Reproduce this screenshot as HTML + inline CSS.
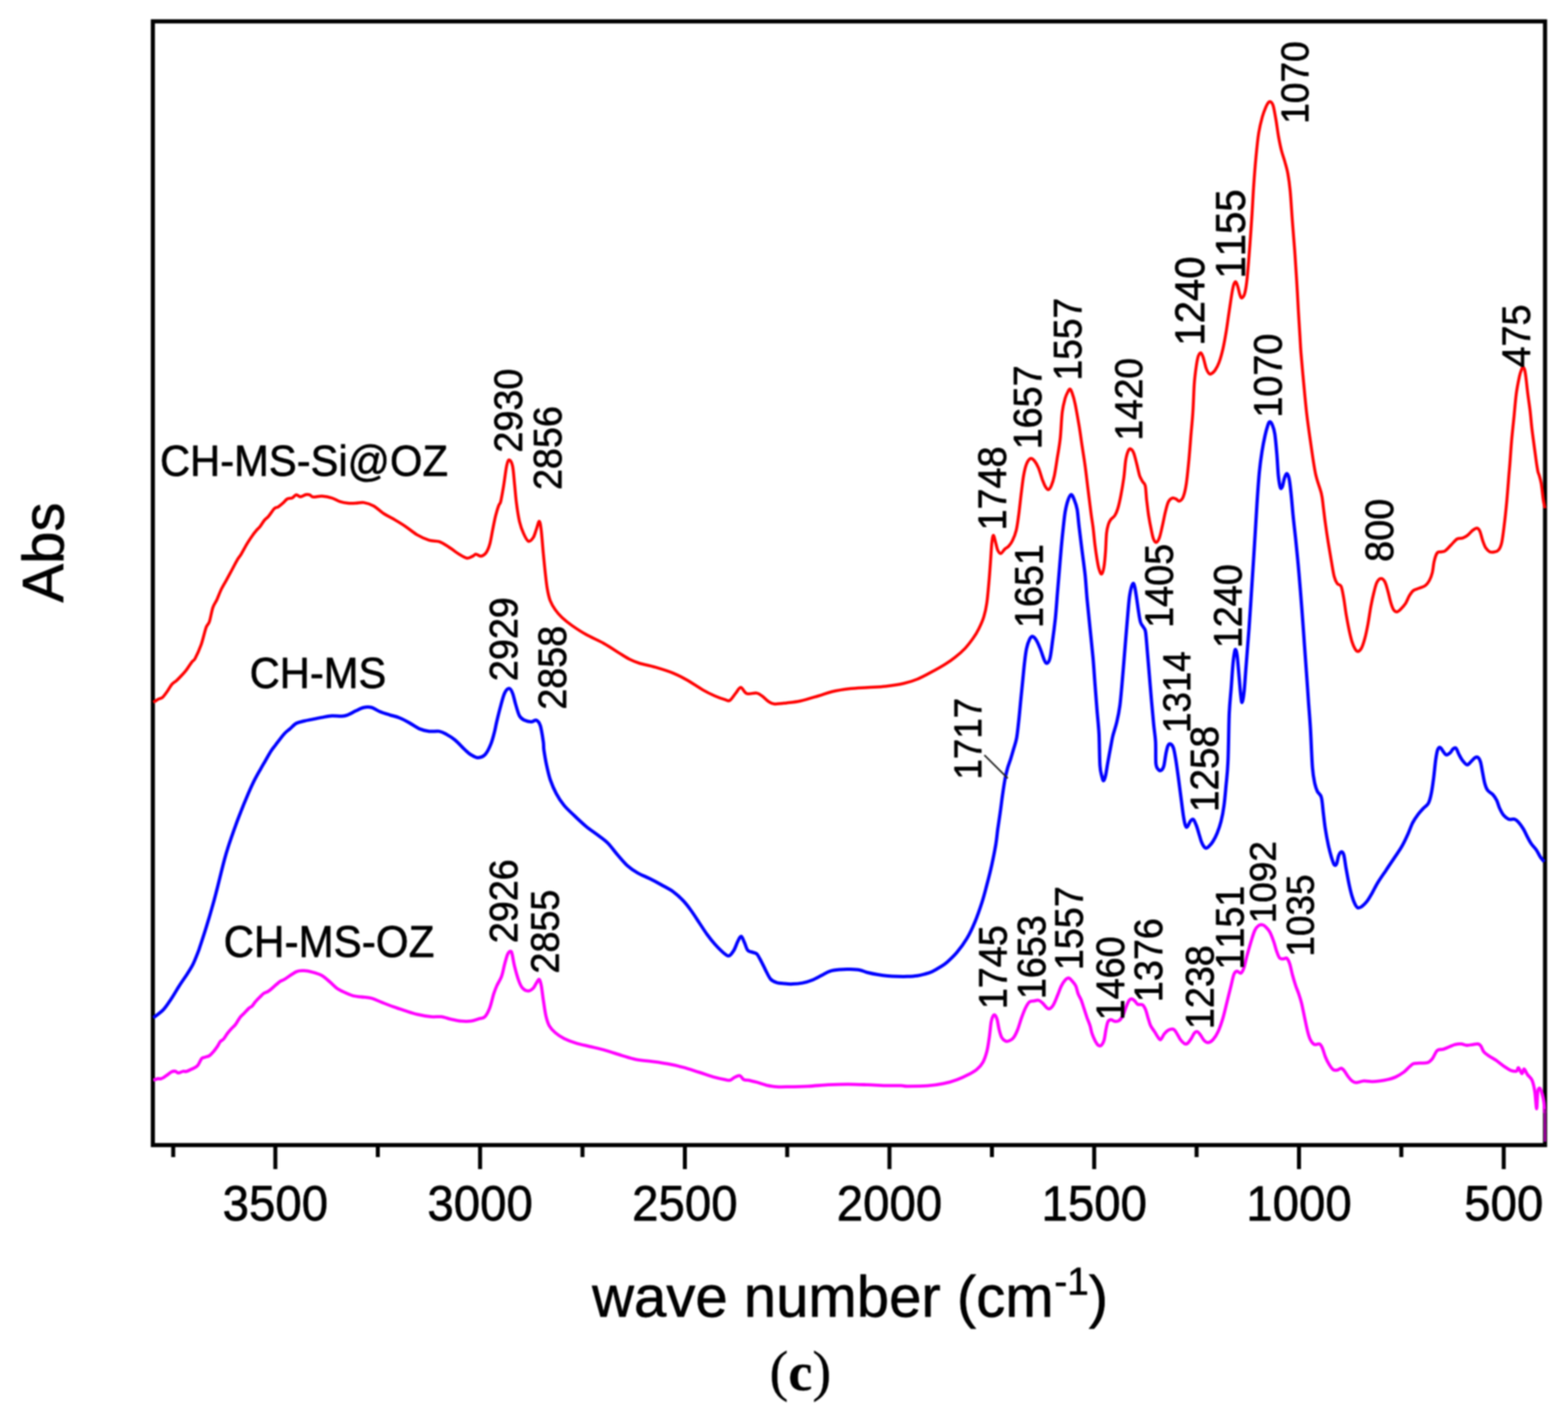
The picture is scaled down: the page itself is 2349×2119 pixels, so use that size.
<!DOCTYPE html>
<html lang="en">
<head>
<meta charset="utf-8">
<title>FTIR spectra (c)</title>
<style>
html,body{margin:0;padding:0;background:#fff;}
body{width:2349px;height:2119px;overflow:hidden;}
svg{display:block;filter:blur(1.2px);font-family:"Liberation Sans",Arial,Helvetica,sans-serif;font-kerning:none;}
svg text{fill:#000;stroke:#000;stroke-width:0.9px;stroke-linejoin:round;}
.cap{font-family:"Liberation Serif","Times New Roman",serif;stroke-width:0.3px;}
</style>
</head>
<body>
<svg xmlns="http://www.w3.org/2000/svg" width="2349" height="2119" viewBox="0 0 2349 2119">
<rect width="2349" height="2119" fill="#fff"/>

<rect x="229.0" y="32.0" width="2085.6" height="1684.0" fill="none" stroke="#000" stroke-width="6.2"/>
<g stroke="#000" stroke-width="6.0">
<line x1="412.5" y1="1716.0" x2="412.5" y2="1752.0"/>
<line x1="719.2" y1="1716.0" x2="719.2" y2="1752.0"/>
<line x1="1026.0" y1="1716.0" x2="1026.0" y2="1752.0"/>
<line x1="1332.5" y1="1716.0" x2="1332.5" y2="1752.0"/>
<line x1="1639.2" y1="1716.0" x2="1639.2" y2="1752.0"/>
<line x1="1946.0" y1="1716.0" x2="1946.0" y2="1752.0"/>
<line x1="2252.7" y1="1716.0" x2="2252.7" y2="1752.0"/>
<line x1="259.5" y1="1716.0" x2="259.5" y2="1734.0"/>
<line x1="566.0" y1="1716.0" x2="566.0" y2="1734.0"/>
<line x1="872.6" y1="1716.0" x2="872.6" y2="1734.0"/>
<line x1="1179.3" y1="1716.0" x2="1179.3" y2="1734.0"/>
<line x1="1486.0" y1="1716.0" x2="1486.0" y2="1734.0"/>
<line x1="1792.6" y1="1716.0" x2="1792.6" y2="1734.0"/>
<line x1="2099.3" y1="1716.0" x2="2099.3" y2="1734.0"/>
</g>
<g fill="none" stroke-width="4.8" stroke-linejoin="round" stroke-linecap="butt">
<path stroke="#ff00ff" stroke-width="4.8" d="M229.7 1618.8C230.8 1618.5 234.2 1617.0 236.0 1616.6C237.8 1616.2 239.2 1617.0 240.7 1616.7C242.3 1616.3 243.5 1615.6 245.2 1614.7C246.9 1613.7 248.8 1612.1 250.7 1610.8C252.6 1609.4 254.8 1607.3 256.7 1606.4C258.7 1605.5 260.8 1605.1 262.5 1605.3C264.2 1605.6 265.1 1607.8 267.0 1607.9C269.0 1607.9 272.2 1605.9 274.2 1605.5C276.2 1605.2 277.1 1606.1 279.2 1605.6C281.3 1605.1 284.6 1603.3 286.8 1602.3C289.0 1601.3 290.8 1600.7 292.5 1599.6C294.1 1598.5 295.2 1598.1 296.8 1595.9C298.4 1593.7 300.4 1588.2 302.1 1586.3C303.7 1584.4 304.7 1585.2 306.7 1584.4C308.6 1583.7 311.6 1583.4 313.8 1581.9C316.1 1580.4 318.1 1577.9 320.1 1575.6C322.1 1573.3 324.0 1570.7 325.7 1568.2C327.3 1565.8 328.5 1562.7 330.1 1560.8C331.6 1559.0 333.2 1559.1 335.0 1557.0C336.8 1555.0 338.8 1551.1 340.8 1548.5C342.8 1545.8 345.1 1543.2 347.1 1541.1C349.0 1539.0 350.4 1538.4 352.4 1535.8C354.4 1533.2 356.9 1528.2 359.1 1525.4C361.2 1522.5 363.1 1521.1 365.3 1518.8C367.6 1516.4 370.6 1513.0 372.7 1511.1C374.8 1509.2 376.3 1509.1 377.9 1507.4C379.6 1505.8 380.6 1503.4 382.6 1501.2C384.5 1499.0 387.3 1496.2 389.5 1494.1C391.6 1492.0 393.3 1489.9 395.4 1488.4C397.5 1487.0 399.9 1486.8 402.0 1485.4C404.2 1484.1 406.4 1482.0 408.3 1480.4C410.2 1478.8 411.7 1477.3 413.6 1475.7C415.6 1474.1 417.9 1471.8 420.0 1470.5C422.0 1469.2 421.8 1470.2 425.8 1467.8C429.8 1465.5 438.8 1458.4 443.8 1456.2C448.8 1454.0 451.7 1454.6 455.7 1454.7C459.7 1454.8 463.1 1455.6 467.6 1456.8C472.1 1458.0 478.0 1459.7 482.5 1462.1C486.9 1464.6 490.4 1468.3 494.4 1471.7C498.3 1475.0 502.3 1479.3 506.2 1482.1C510.2 1484.8 514.2 1486.3 518.1 1488.0C522.1 1489.7 526.1 1491.5 530.0 1492.5C534.0 1493.5 537.5 1493.4 541.9 1494.0C546.4 1494.6 551.8 1494.7 556.8 1496.0C561.7 1497.4 566.2 1499.9 571.7 1502.0C577.1 1504.1 583.6 1506.7 589.5 1508.8C595.4 1511.0 601.4 1512.9 607.3 1514.8C613.3 1516.7 618.7 1518.6 625.2 1520.1C631.6 1521.6 640.0 1523.1 646.0 1523.7C651.9 1524.3 655.9 1523.1 660.9 1523.7C665.8 1524.3 670.8 1526.2 675.7 1527.3C680.7 1528.3 685.6 1529.7 690.6 1530.2C695.5 1530.7 701.0 1530.8 705.5 1530.2C709.9 1529.6 713.9 1527.8 717.3 1526.7C720.8 1525.6 723.5 1526.4 726.3 1523.7C729.0 1521.0 731.5 1516.0 733.7 1510.3C735.9 1504.6 737.9 1494.9 739.6 1489.5C741.4 1484.0 742.1 1482.1 744.1 1477.6C746.1 1473.1 749.6 1468.2 751.5 1462.7C753.5 1457.3 754.5 1450.4 756.0 1444.9C757.5 1439.4 759.0 1433.3 760.5 1430.0C761.9 1426.8 763.8 1425.6 764.9 1425.6C766.1 1425.6 766.3 1426.3 767.2 1430.0C768.2 1433.7 769.2 1441.4 770.8 1447.9C772.4 1454.3 774.8 1463.2 776.8 1468.7C778.7 1474.1 780.2 1477.9 782.7 1480.6C785.2 1483.3 788.9 1485.0 791.6 1485.0C794.4 1485.0 796.9 1482.8 799.1 1480.6C801.2 1478.3 802.9 1473.7 804.4 1471.7C805.9 1469.6 806.9 1467.1 808.0 1468.1C809.1 1469.1 810.0 1472.6 811.0 1477.6C811.9 1482.7 812.8 1491.0 813.9 1498.4C815.1 1505.9 816.3 1515.8 817.8 1522.2C819.3 1528.6 820.5 1532.9 822.8 1537.1C825.2 1541.3 828.0 1544.3 831.8 1547.5C835.5 1550.7 839.9 1553.8 845.1 1556.4C850.3 1559.0 856.5 1561.3 863.0 1563.2C869.4 1565.2 876.4 1566.5 883.8 1568.3C891.2 1570.1 899.7 1572.0 907.6 1574.2C915.5 1576.5 923.9 1579.4 931.4 1581.7C938.8 1583.9 944.7 1586.1 952.2 1587.6C959.6 1589.1 968.0 1589.5 976.0 1590.6C983.9 1591.7 991.8 1592.7 999.8 1594.2C1007.7 1595.6 1015.6 1597.4 1023.5 1599.5C1031.5 1601.6 1039.9 1604.6 1047.3 1606.9C1054.8 1609.3 1061.7 1611.9 1068.1 1613.8C1074.6 1615.6 1081.8 1617.1 1086.0 1617.9C1090.2 1618.8 1090.9 1619.4 1093.4 1618.8C1095.9 1618.2 1098.4 1615.5 1100.8 1614.4C1103.3 1613.2 1106.0 1611.4 1108.3 1612.0C1110.5 1612.6 1112.0 1616.8 1114.2 1617.9C1116.5 1619.1 1118.4 1618.2 1121.7 1618.8C1124.9 1619.5 1129.1 1620.6 1133.6 1621.8C1138.0 1623.0 1143.5 1625.1 1148.4 1626.3C1153.4 1627.4 1157.8 1628.3 1163.3 1628.6C1168.7 1629.0 1173.2 1628.8 1181.1 1628.6C1189.1 1628.5 1200.9 1628.3 1210.9 1627.8C1220.8 1627.3 1230.7 1626.2 1240.6 1625.7C1250.5 1625.2 1260.4 1624.8 1270.3 1624.8C1280.2 1624.8 1290.1 1625.3 1300.1 1625.7C1310.0 1626.0 1321.5 1626.7 1329.8 1626.9C1338.1 1627.1 1345.1 1626.7 1350.0 1626.9C1355.0 1627.0 1352.9 1627.7 1359.5 1627.8C1366.0 1627.8 1380.3 1627.8 1389.2 1627.2C1398.1 1626.5 1405.6 1625.4 1413.0 1623.9C1420.4 1622.4 1427.4 1620.3 1433.8 1617.9C1440.2 1615.6 1446.7 1612.5 1451.6 1609.9C1456.6 1607.3 1460.1 1605.5 1463.5 1602.5C1467.0 1599.5 1470.0 1596.5 1472.4 1592.1C1474.9 1587.6 1476.8 1581.9 1478.4 1575.7C1480.0 1569.5 1480.9 1562.3 1482.0 1554.9C1483.1 1547.5 1483.9 1536.6 1484.9 1531.1C1485.9 1525.7 1486.9 1523.8 1487.9 1522.2C1488.9 1520.6 1489.9 1520.6 1490.9 1521.6C1491.9 1522.6 1492.9 1524.6 1493.9 1528.2C1494.8 1531.7 1495.7 1538.6 1496.8 1543.0C1498.0 1547.5 1499.1 1552.0 1500.7 1554.9C1502.3 1557.8 1504.7 1559.5 1506.6 1560.3C1508.6 1561.0 1510.6 1560.3 1512.6 1559.4C1514.6 1558.5 1516.6 1557.6 1518.5 1554.9C1520.5 1552.2 1522.5 1548.0 1524.5 1543.0C1526.5 1538.1 1528.4 1530.6 1530.4 1525.2C1532.4 1519.7 1534.4 1514.3 1536.4 1510.3C1538.4 1506.3 1540.1 1503.1 1542.3 1501.4C1544.6 1499.7 1547.5 1500.3 1549.8 1499.9C1552.0 1499.5 1553.7 1498.5 1555.7 1499.0C1557.7 1499.5 1559.7 1501.1 1561.6 1502.9C1563.6 1504.7 1565.9 1508.2 1567.6 1509.7C1569.3 1511.2 1570.3 1512.4 1572.1 1511.8C1573.8 1511.2 1576.0 1509.1 1578.0 1505.9C1580.0 1502.6 1582.0 1497.2 1583.9 1492.5C1585.9 1487.8 1587.9 1481.6 1589.9 1477.6C1591.9 1473.6 1594.0 1470.7 1595.8 1468.7C1597.7 1466.7 1599.2 1465.5 1600.9 1465.7C1602.6 1466.0 1604.5 1468.2 1606.2 1470.2C1608.0 1472.2 1610.1 1474.4 1611.6 1477.6C1613.1 1480.8 1613.8 1486.0 1615.2 1489.5C1616.5 1493.0 1618.1 1494.7 1619.6 1498.4C1621.1 1502.1 1622.6 1507.3 1624.1 1511.8C1625.6 1516.3 1627.1 1521.0 1628.5 1525.2C1630.0 1529.4 1631.8 1533.1 1633.0 1537.1C1634.2 1541.0 1634.7 1545.2 1636.0 1549.0C1637.2 1552.7 1639.0 1556.5 1640.4 1559.4C1641.9 1562.2 1643.4 1565.0 1644.9 1566.2C1646.4 1567.4 1647.9 1567.9 1649.4 1566.8C1650.8 1565.7 1652.6 1563.3 1653.8 1559.4C1655.1 1555.4 1655.8 1547.7 1656.8 1543.0C1657.8 1538.3 1658.5 1533.6 1659.8 1531.1C1661.0 1528.6 1662.5 1528.3 1664.2 1528.2C1666.0 1528.1 1668.2 1530.3 1670.2 1530.5C1672.2 1530.8 1674.1 1531.0 1676.1 1529.6C1678.1 1528.3 1680.3 1525.4 1682.1 1522.2C1683.8 1519.0 1685.0 1514.0 1686.5 1510.3C1688.0 1506.6 1689.5 1502.1 1691.0 1499.9C1692.5 1497.7 1694.0 1496.9 1695.4 1496.9C1696.9 1496.9 1698.4 1498.6 1699.9 1499.9C1701.4 1501.2 1702.4 1504.0 1704.4 1505.0C1706.3 1506.0 1709.8 1504.5 1711.8 1505.9C1713.8 1507.2 1714.9 1510.1 1716.3 1513.3C1717.6 1516.5 1718.6 1521.2 1719.8 1525.2C1721.1 1529.1 1722.1 1533.6 1723.7 1537.1C1725.3 1540.5 1727.9 1543.3 1729.6 1546.0C1731.4 1548.7 1732.6 1551.4 1734.1 1553.4C1735.6 1555.4 1736.8 1558.6 1738.6 1557.9C1740.3 1557.1 1742.5 1551.3 1744.5 1549.0C1746.5 1546.6 1748.2 1544.7 1750.5 1543.6C1752.7 1542.5 1755.9 1541.8 1757.9 1542.4C1759.9 1543.1 1760.6 1544.9 1762.3 1547.5C1764.1 1550.1 1766.3 1555.2 1768.3 1557.9C1770.3 1560.6 1772.5 1562.8 1774.2 1563.8C1776.0 1564.8 1777.0 1565.1 1778.7 1563.8C1780.4 1562.6 1782.9 1559.0 1784.6 1556.4C1786.4 1553.8 1787.6 1550.1 1789.1 1548.4C1790.6 1546.6 1792.1 1545.6 1793.6 1546.0C1795.0 1546.3 1796.3 1548.2 1798.0 1550.5C1799.8 1552.7 1802.0 1557.4 1804.0 1559.4C1806.0 1561.4 1807.7 1562.6 1809.9 1562.3C1812.1 1562.1 1814.9 1560.6 1817.3 1557.9C1819.8 1555.2 1822.3 1551.4 1824.8 1546.0C1827.3 1540.5 1830.0 1532.6 1832.2 1525.2C1834.4 1517.7 1836.2 1509.3 1838.2 1501.4C1840.1 1493.5 1842.4 1484.5 1844.1 1477.6C1845.8 1470.7 1847.1 1463.5 1848.6 1459.8C1850.1 1456.0 1851.3 1455.6 1853.0 1455.3C1854.8 1455.1 1857.2 1459.0 1859.0 1458.3C1860.7 1457.5 1861.9 1455.1 1863.4 1450.8C1864.9 1446.6 1866.2 1439.4 1867.9 1433.0C1869.6 1426.6 1871.9 1418.6 1873.8 1412.2C1875.8 1405.8 1877.8 1398.6 1879.8 1394.4C1881.8 1390.1 1883.8 1388.3 1885.7 1386.9C1887.7 1385.5 1889.9 1385.6 1891.7 1386.0C1893.5 1386.4 1894.7 1387.5 1896.4 1389.3C1898.2 1391.1 1900.4 1393.0 1902.4 1396.8C1904.4 1400.5 1906.6 1406.6 1908.3 1411.6C1910.0 1416.5 1911.3 1422.4 1912.8 1426.4C1914.3 1430.5 1915.5 1434.2 1917.2 1435.9C1918.9 1437.7 1921.4 1436.8 1923.2 1436.8C1924.9 1436.8 1926.1 1434.7 1927.6 1435.9C1929.1 1437.2 1930.6 1439.9 1932.1 1444.2C1933.5 1448.6 1935.0 1456.6 1936.5 1462.0C1938.0 1467.5 1939.5 1472.4 1941.0 1476.9C1942.4 1481.3 1943.9 1484.3 1945.4 1488.7C1946.9 1493.2 1948.4 1497.6 1949.9 1503.6C1951.3 1509.5 1952.8 1517.4 1954.3 1524.4C1955.8 1531.3 1957.3 1539.4 1958.8 1545.1C1960.2 1550.8 1961.5 1555.1 1963.2 1558.5C1964.9 1561.8 1966.9 1564.3 1969.1 1565.3C1971.4 1566.3 1974.6 1563.6 1976.6 1564.4C1978.5 1565.3 1979.5 1567.1 1981.0 1570.4C1982.5 1573.6 1983.7 1579.5 1985.5 1583.7C1987.2 1587.9 1989.4 1592.4 1991.4 1595.6C1993.4 1598.8 1995.4 1601.7 1997.3 1603.0C1999.3 1604.3 2001.3 1603.9 2003.3 1603.6C2005.3 1603.2 2007.5 1600.8 2009.2 1600.9C2010.9 1601.1 2011.9 1602.4 2013.7 1604.5C2015.4 1606.6 2017.6 1610.8 2019.6 1613.4C2021.6 1616.0 2023.6 1618.4 2025.5 1619.9C2027.5 1621.4 2028.5 1622.3 2031.5 1622.3C2034.4 1622.3 2039.4 1620.2 2043.3 1619.9C2047.3 1619.7 2051.3 1620.8 2055.2 1620.8C2059.2 1620.8 2063.1 1620.4 2067.1 1619.9C2071.0 1619.4 2075.0 1618.8 2078.9 1617.8C2082.9 1616.8 2086.9 1615.8 2090.8 1614.0C2094.8 1612.1 2099.2 1609.4 2102.7 1606.9C2106.2 1604.3 2109.1 1600.7 2111.6 1598.5C2114.1 1596.4 2115.1 1595.0 2117.5 1594.1C2120.0 1593.2 2123.0 1593.5 2126.4 1593.2C2129.9 1593.0 2135.1 1593.7 2138.3 1592.6C2141.5 1591.5 2143.2 1589.7 2145.7 1586.7C2148.2 1583.6 2150.4 1576.6 2153.1 1574.2C2155.9 1571.8 2159.1 1573.3 2162.0 1572.4C2165.0 1571.5 2168.0 1570.1 2170.9 1568.9C2173.9 1567.7 2176.9 1566.1 2179.8 1565.3C2182.8 1564.6 2185.8 1564.2 2188.7 1564.4C2191.7 1564.6 2194.7 1566.3 2197.6 1566.5C2200.6 1566.6 2203.8 1565.7 2206.6 1565.3C2209.3 1565.0 2212.0 1564.1 2214.0 1564.4C2215.9 1564.8 2216.9 1565.4 2218.4 1567.4C2219.9 1569.4 2220.9 1573.8 2222.9 1576.3C2224.9 1578.8 2227.1 1580.0 2230.3 1582.2C2233.5 1584.5 2238.2 1586.9 2242.2 1589.6C2246.1 1592.4 2250.6 1596.2 2254.0 1598.5C2257.5 1600.9 2260.0 1602.8 2262.9 1603.9C2265.9 1605.0 2269.9 1605.7 2271.8 1605.1C2273.8 1604.5 2273.4 1599.7 2274.8 1600.3C2276.2 1600.9 2278.6 1608.5 2280.0 1608.8C2281.4 1609.1 2281.9 1601.7 2283.3 1602.0C2284.7 1602.3 2286.4 1607.7 2288.4 1610.5C2290.4 1613.3 2293.4 1614.8 2295.2 1619.0C2297.0 1623.2 2298.2 1628.9 2299.3 1636.0C2300.4 1643.1 2301.3 1661.6 2302.0 1661.6C2302.7 1661.6 2302.9 1641.1 2303.7 1636.0C2304.5 1630.9 2305.9 1630.3 2307.0 1631.0C2308.1 1631.7 2309.5 1636.5 2310.5 1640.0C2311.5 1643.5 2312.4 1647.3 2313.0 1652.0C2313.6 1656.7 2313.8 1665.3 2314.0 1668.0"/>
<path stroke="#0000ff" stroke-width="5.0" d="M229.7 1525.2C232.2 1523.2 240.1 1518.0 244.6 1513.3C249.1 1508.6 252.5 1502.9 256.5 1496.9C260.5 1491.0 264.4 1483.8 268.4 1477.6C272.3 1471.4 276.8 1465.2 280.3 1459.8C283.7 1454.3 286.5 1450.4 289.2 1444.9C291.9 1439.4 294.8 1431.7 296.6 1427.1C298.4 1422.5 297.9 1423.6 300.0 1417.3C302.1 1410.9 306.1 1399.0 309.2 1388.8C312.4 1378.6 316.1 1365.9 318.8 1356.2C321.5 1346.6 322.5 1342.4 325.5 1331.0C328.4 1319.6 333.2 1299.3 336.3 1288.0C339.3 1276.8 341.1 1271.7 343.8 1263.3C346.6 1255.0 349.7 1245.9 352.7 1237.8C355.6 1229.6 358.9 1221.3 361.6 1214.4C364.2 1207.6 365.6 1203.9 368.7 1196.9C371.7 1189.8 376.1 1179.5 379.7 1172.2C383.2 1164.9 387.1 1158.3 390.0 1153.2C392.8 1148.1 393.9 1146.3 396.6 1141.7C399.3 1137.0 403.4 1129.5 406.1 1125.3C408.8 1121.2 409.3 1120.9 412.6 1116.7C415.8 1112.4 422.1 1103.8 425.7 1099.8C429.3 1095.8 431.0 1095.1 434.0 1092.5C437.0 1089.9 440.2 1086.1 443.8 1084.0C447.4 1082.0 451.7 1081.5 455.7 1080.5C459.7 1079.5 463.1 1079.0 467.6 1078.1C472.1 1077.2 477.5 1076.0 482.5 1075.1C487.4 1074.2 492.4 1073.0 497.3 1072.7C502.3 1072.5 508.2 1073.6 512.2 1073.3C516.2 1073.1 517.6 1072.6 521.1 1071.3C524.6 1069.9 529.0 1067.2 533.0 1065.3C537.0 1063.5 540.9 1061.1 544.9 1060.3C548.9 1059.4 552.8 1059.3 556.8 1060.3C560.8 1061.3 564.2 1064.4 568.7 1066.2C573.1 1068.0 578.6 1069.7 583.6 1071.3C588.5 1072.8 593.5 1073.7 598.4 1075.7C603.4 1077.7 608.3 1080.4 613.3 1083.2C618.2 1085.9 623.2 1089.9 628.2 1092.1C633.1 1094.2 638.1 1095.3 643.0 1095.9C648.0 1096.6 653.7 1095.2 657.9 1095.9C662.1 1096.6 664.3 1097.9 668.3 1100.1C672.3 1102.3 677.0 1105.1 681.7 1109.0C686.4 1112.9 692.5 1119.8 696.5 1123.5C700.5 1127.2 702.1 1129.0 705.4 1131.0C708.6 1133.0 712.4 1135.6 716.0 1135.5C719.6 1135.4 723.8 1134.0 727.0 1130.5C730.2 1127.0 733.2 1120.5 735.5 1114.7C737.8 1109.0 739.6 1101.5 741.0 1096.0C742.4 1090.5 742.6 1088.0 744.1 1081.7C745.6 1075.3 748.1 1065.1 750.1 1057.9C752.0 1050.7 753.9 1042.9 756.0 1038.6C758.1 1034.2 760.9 1031.7 762.8 1031.7C764.8 1031.7 766.3 1034.7 767.8 1038.6C769.4 1042.4 770.6 1049.2 772.3 1054.9C774.0 1060.6 776.0 1068.7 778.2 1072.7C780.5 1076.8 782.7 1077.8 785.7 1079.3C788.7 1080.8 793.1 1081.7 796.1 1081.7C799.1 1081.7 801.3 1078.3 803.5 1079.3C805.7 1080.3 807.7 1082.3 809.5 1087.6C811.2 1093.0 813.0 1105.4 813.9 1111.4C814.8 1117.4 814.0 1117.8 814.8 1123.8C815.7 1129.8 817.4 1140.1 819.0 1147.6C820.6 1155.0 822.0 1161.4 824.3 1168.4C826.7 1175.3 829.8 1182.8 833.3 1189.2C836.7 1195.6 840.7 1201.6 845.1 1207.0C849.6 1212.5 854.6 1216.7 860.0 1221.9C865.5 1227.1 871.9 1233.3 877.9 1238.3C883.8 1243.2 890.2 1247.4 895.7 1251.6C901.1 1255.8 905.6 1258.6 910.6 1263.5C915.5 1268.5 920.5 1275.7 925.4 1281.4C930.4 1287.1 935.3 1293.3 940.3 1297.7C945.2 1302.2 949.7 1305.0 955.2 1308.1C960.6 1311.3 967.0 1313.5 973.0 1316.5C978.9 1319.4 984.9 1322.6 990.8 1326.0C996.8 1329.3 1003.2 1332.4 1008.7 1336.4C1014.1 1340.3 1019.1 1345.0 1023.5 1349.8C1028.0 1354.5 1031.5 1359.2 1035.4 1364.6C1039.4 1370.1 1043.4 1376.5 1047.3 1382.5C1051.3 1388.4 1055.3 1394.8 1059.2 1400.3C1063.2 1405.8 1067.1 1410.7 1071.1 1415.2C1075.1 1419.6 1079.5 1424.2 1083.0 1427.1C1086.5 1429.9 1089.2 1432.9 1091.9 1432.4C1094.7 1431.9 1097.1 1427.7 1099.4 1424.1C1101.6 1420.5 1103.5 1414.2 1105.3 1410.7C1107.1 1407.2 1108.7 1403.0 1110.4 1403.3C1112.0 1403.5 1113.5 1408.7 1115.1 1412.2C1116.8 1415.7 1118.1 1421.6 1120.2 1424.1C1122.3 1426.6 1125.4 1426.2 1127.6 1427.1C1129.8 1428.0 1131.6 1427.5 1133.6 1429.4C1135.5 1431.4 1137.3 1434.9 1139.5 1439.0C1141.7 1443.0 1144.5 1449.1 1146.9 1453.8C1149.4 1458.5 1151.6 1464.1 1154.4 1467.2C1157.1 1470.3 1159.8 1471.1 1163.3 1472.3C1166.8 1473.4 1171.2 1473.6 1175.2 1474.0C1179.1 1474.4 1182.6 1474.8 1187.1 1474.6C1191.5 1474.5 1197.0 1474.1 1201.9 1473.1C1206.9 1472.2 1211.8 1470.7 1216.8 1468.7C1221.8 1466.7 1227.2 1463.5 1231.7 1461.3C1236.1 1459.0 1239.1 1456.7 1243.6 1455.3C1248.0 1453.9 1253.5 1453.4 1258.4 1452.9C1263.4 1452.5 1268.3 1452.5 1273.3 1452.6C1278.3 1452.8 1283.7 1453.0 1288.2 1453.8C1292.6 1454.6 1295.5 1456.4 1300.0 1457.5C1304.5 1458.6 1310.0 1459.7 1314.9 1460.5C1319.9 1461.3 1324.8 1462.0 1329.7 1462.5C1334.7 1463.0 1339.6 1463.2 1344.6 1463.3C1349.6 1463.4 1354.5 1463.5 1359.5 1463.3C1364.5 1463.1 1369.8 1462.8 1374.3 1462.2C1378.8 1461.6 1382.5 1460.5 1386.2 1459.5C1389.9 1458.5 1392.9 1457.6 1396.6 1455.9C1400.3 1454.2 1404.8 1451.6 1408.5 1449.2C1412.2 1446.8 1414.7 1445.5 1418.9 1441.8C1423.1 1438.1 1428.8 1432.9 1433.8 1426.9C1438.8 1421.0 1444.2 1413.7 1448.7 1406.1C1453.2 1398.5 1456.9 1390.4 1460.6 1381.5C1464.3 1372.6 1468.0 1361.8 1471.0 1352.5C1474.0 1343.2 1475.9 1335.4 1478.4 1326.0C1480.9 1316.6 1483.6 1306.1 1485.8 1296.0C1488.0 1285.9 1490.3 1274.4 1491.8 1265.5C1493.3 1256.6 1493.6 1251.0 1494.7 1242.7C1495.9 1234.5 1497.4 1224.9 1498.6 1216.0C1499.9 1207.0 1500.9 1197.6 1502.2 1189.2C1503.4 1180.8 1504.8 1171.9 1506.0 1165.4C1507.3 1159.0 1508.3 1155.3 1509.6 1150.5C1511.0 1145.8 1512.6 1141.9 1514.1 1137.2C1515.6 1132.5 1517.0 1127.5 1518.5 1122.3C1520.0 1117.1 1521.8 1112.7 1523.0 1105.9C1524.2 1099.2 1525.0 1090.7 1526.0 1081.7C1527.0 1072.7 1528.0 1061.8 1528.9 1051.9C1529.9 1042.0 1530.9 1032.1 1531.9 1022.2C1532.9 1012.3 1533.9 1000.9 1534.9 992.5C1535.9 984.0 1536.6 977.4 1537.9 971.7C1539.1 966.0 1540.8 961.3 1542.3 958.3C1543.8 955.3 1545.0 953.6 1546.8 953.8C1548.5 954.1 1550.7 956.5 1552.7 959.8C1554.7 963.0 1556.7 968.2 1558.7 973.1C1560.7 978.1 1563.0 986.0 1564.6 989.5C1566.3 993.0 1567.1 994.5 1568.5 994.0C1569.9 993.5 1571.6 991.7 1572.9 986.5C1574.3 981.3 1575.2 972.6 1576.5 962.7C1577.9 952.8 1579.7 939.0 1581.0 927.1C1582.2 915.2 1583.0 903.3 1583.9 891.4C1584.9 879.5 1585.9 867.6 1586.9 855.7C1587.9 843.8 1588.9 830.9 1589.9 820.0C1590.9 809.1 1591.9 799.2 1592.9 790.3C1593.9 781.4 1594.6 773.4 1595.8 766.5C1597.1 759.6 1598.8 752.9 1600.3 748.7C1601.8 744.5 1603.3 741.2 1604.8 741.2C1606.2 741.2 1607.7 744.9 1609.2 748.7C1610.7 752.4 1612.4 756.6 1613.7 763.5C1614.9 770.5 1615.4 779.9 1616.7 790.3C1617.9 800.7 1619.6 814.1 1621.1 826.0C1622.6 837.9 1624.3 849.8 1625.6 861.6C1626.8 873.5 1627.3 883.9 1628.5 897.3C1629.8 910.7 1631.5 927.1 1633.0 941.9C1634.5 956.8 1636.2 972.6 1637.5 986.5C1638.7 1000.4 1639.4 1012.3 1640.4 1025.2C1641.4 1038.1 1642.4 1051.4 1643.4 1063.8C1644.4 1076.2 1645.6 1085.6 1646.4 1099.5C1647.1 1113.5 1647.1 1136.8 1647.9 1147.6C1648.6 1158.3 1650.0 1160.2 1650.8 1163.9C1651.7 1167.6 1652.3 1170.1 1653.2 1169.9C1654.1 1169.6 1655.1 1167.1 1656.2 1162.4C1657.3 1157.7 1658.4 1149.1 1659.8 1141.6C1661.1 1134.2 1663.0 1124.4 1664.2 1117.8C1665.5 1111.3 1665.7 1108.5 1667.2 1102.5C1668.7 1096.5 1671.4 1089.1 1673.1 1081.7C1674.9 1074.2 1676.4 1066.8 1677.6 1057.9C1678.8 1049.0 1679.6 1039.1 1680.6 1028.2C1681.6 1017.2 1682.6 1004.4 1683.6 992.5C1684.5 980.6 1685.5 968.7 1686.5 956.8C1687.5 944.9 1688.5 932.0 1689.5 921.1C1690.5 910.2 1691.2 899.1 1692.5 891.4C1693.7 883.7 1695.7 877.0 1696.9 875.0C1698.2 873.0 1698.9 875.8 1699.9 879.5C1700.9 883.2 1701.9 890.9 1702.9 897.3C1703.9 903.8 1704.9 912.2 1705.9 918.1C1706.8 924.1 1707.6 929.3 1708.8 933.0C1710.1 936.7 1712.0 938.0 1713.3 940.4C1714.5 942.9 1715.3 941.2 1716.3 947.9C1717.2 954.6 1718.2 969.2 1719.2 980.6C1720.2 992.0 1721.2 1004.4 1722.2 1016.3C1723.2 1028.2 1724.2 1040.5 1725.2 1051.9C1726.2 1063.3 1727.2 1074.7 1728.2 1084.6C1729.1 1094.6 1730.5 1101.4 1731.1 1111.4C1731.7 1121.4 1731.0 1137.6 1731.7 1144.6C1732.5 1151.6 1734.2 1151.9 1735.6 1153.5C1737.0 1155.1 1738.7 1155.1 1740.0 1154.1C1741.4 1153.1 1742.5 1151.6 1743.6 1147.6C1744.7 1143.5 1745.6 1134.7 1746.6 1129.7C1747.6 1124.8 1748.4 1120.3 1749.6 1117.8C1750.7 1115.4 1752.0 1114.4 1753.4 1114.9C1754.8 1115.4 1756.5 1116.8 1757.9 1120.8C1759.2 1124.8 1760.2 1131.2 1761.5 1138.7C1762.7 1146.1 1764.0 1156.0 1765.3 1165.4C1766.6 1174.8 1767.9 1185.7 1769.2 1195.1C1770.4 1204.6 1771.7 1215.0 1772.7 1221.9C1773.8 1228.8 1774.7 1233.9 1775.7 1236.8C1776.7 1239.6 1777.5 1240.1 1778.7 1239.1C1779.9 1238.2 1781.7 1232.7 1783.2 1230.8C1784.6 1228.9 1786.1 1226.9 1787.6 1227.9C1789.1 1228.8 1790.7 1233.3 1792.1 1236.8C1793.5 1240.2 1794.7 1244.7 1795.9 1248.7C1797.2 1252.6 1798.3 1257.3 1799.5 1260.6C1800.7 1263.8 1801.8 1266.3 1803.1 1268.0C1804.3 1269.7 1805.6 1271.0 1806.9 1271.0C1808.3 1271.0 1809.7 1269.7 1811.4 1268.0C1813.1 1266.3 1815.4 1263.8 1817.3 1260.6C1819.3 1257.3 1821.3 1253.6 1823.3 1248.7C1825.3 1243.7 1827.5 1237.8 1829.2 1230.8C1831.0 1223.9 1832.5 1216.0 1833.7 1207.0C1834.9 1198.1 1835.7 1188.2 1836.7 1177.3C1837.7 1166.4 1838.8 1159.7 1839.6 1141.6C1840.5 1123.6 1840.7 1087.4 1841.5 1068.9C1842.4 1050.3 1843.6 1042.2 1844.5 1030.3C1845.4 1018.4 1846.1 1006.1 1846.9 997.6C1847.6 989.2 1848.3 983.9 1849.0 979.8C1849.7 975.8 1850.3 972.8 1851.0 973.3C1851.8 973.8 1852.5 975.8 1853.4 982.8C1854.3 989.8 1855.5 1005.6 1856.4 1015.5C1857.3 1025.3 1858.0 1036.0 1858.8 1042.2C1859.5 1048.3 1860.0 1053.5 1860.8 1052.5C1861.7 1051.6 1862.8 1045.4 1863.8 1036.2C1864.8 1027.1 1865.5 1013.5 1866.8 997.6C1868.0 981.8 1869.7 962.0 1871.2 941.3C1872.7 920.5 1874.3 894.3 1875.7 873.0C1877.1 851.7 1878.3 833.4 1879.5 813.7C1880.8 793.9 1881.9 772.1 1883.1 754.3C1884.3 736.5 1885.4 719.7 1886.7 706.8C1887.9 694.0 1889.1 686.1 1890.5 677.2C1891.9 668.3 1893.5 660.1 1895.0 653.4C1896.4 646.7 1898.2 640.7 1899.4 637.1C1900.6 633.5 1901.2 632.0 1902.4 632.0C1903.5 632.0 1905.0 634.0 1906.2 637.1C1907.5 640.2 1908.7 643.3 1909.8 650.4C1910.9 657.6 1911.9 669.7 1912.8 680.1C1913.7 690.5 1914.3 704.4 1915.1 712.8C1916.0 721.2 1917.1 727.9 1918.1 730.6C1919.1 733.3 1920.1 731.3 1921.1 729.1C1922.1 726.9 1923.0 720.4 1924.0 717.2C1925.1 714.0 1926.4 709.8 1927.6 709.8C1928.8 709.8 1930.1 712.3 1931.2 717.2C1932.3 722.2 1933.1 730.3 1934.1 739.5C1935.1 748.6 1936.0 760.7 1937.1 772.1C1938.2 783.5 1939.7 795.4 1941.0 807.7C1942.2 820.1 1943.6 833.4 1944.8 846.3C1946.0 859.2 1947.0 871.5 1948.1 884.9C1949.2 898.2 1950.3 912.6 1951.3 926.4C1952.4 940.3 1953.3 954.1 1954.3 968.0C1955.3 981.8 1956.3 995.7 1957.3 1009.5C1958.3 1023.4 1959.3 1037.2 1960.2 1051.1C1961.2 1064.9 1962.2 1076.0 1963.2 1092.6C1964.2 1109.2 1965.1 1136.9 1966.2 1150.4C1967.3 1164.0 1968.5 1168.3 1969.7 1174.2C1971.0 1180.1 1972.0 1182.6 1973.6 1186.1C1975.2 1189.5 1978.1 1189.5 1979.5 1195.0C1981.0 1200.4 1981.5 1210.8 1982.5 1218.7C1983.5 1226.6 1984.2 1234.5 1985.5 1242.4C1986.7 1250.4 1988.4 1259.3 1989.9 1266.2C1991.4 1273.1 1992.9 1279.0 1994.4 1284.0C1995.9 1288.9 1997.5 1294.1 1998.8 1295.9C2000.2 1297.6 2001.3 1296.6 2002.4 1294.4C2003.5 1292.1 2004.2 1285.5 2005.4 1282.5C2006.5 1279.5 2007.9 1276.8 2009.2 1276.6C2010.5 1276.3 2011.8 1276.8 2013.1 1281.0C2014.3 1285.2 2015.3 1294.4 2016.6 1301.8C2018.0 1309.2 2019.6 1318.6 2021.1 1325.5C2022.6 1332.5 2024.0 1338.4 2025.5 1343.3C2027.0 1348.3 2028.5 1352.3 2030.0 1355.2C2031.5 1358.1 2032.7 1360.1 2034.4 1360.5C2036.2 1361.0 2038.1 1359.8 2040.4 1358.2C2042.6 1356.5 2045.3 1354.0 2047.8 1350.8C2050.3 1347.5 2052.5 1343.6 2055.2 1338.9C2057.9 1334.2 2060.6 1328.3 2064.1 1322.6C2067.6 1316.9 2072.0 1310.7 2076.0 1304.8C2079.9 1298.8 2083.9 1292.9 2087.9 1287.0C2091.8 1281.0 2096.3 1275.1 2099.7 1269.1C2103.2 1263.2 2105.9 1257.3 2108.6 1251.3C2111.3 1245.4 2113.6 1238.5 2116.0 1233.5C2118.5 1228.6 2120.7 1225.4 2123.5 1221.7C2126.2 1218.0 2129.6 1214.3 2132.4 1211.3C2135.1 1208.3 2137.8 1207.6 2139.8 1203.9C2141.8 1200.2 2142.9 1195.5 2144.2 1189.0C2145.6 1182.6 2146.7 1173.7 2147.8 1165.3C2148.9 1156.9 2149.8 1145.5 2150.8 1138.6C2151.8 1131.7 2152.6 1126.8 2153.7 1123.7C2154.9 1120.7 2156.3 1119.9 2157.6 1120.2C2158.9 1120.4 2160.0 1123.4 2161.4 1125.2C2162.9 1127.1 2164.7 1130.7 2166.5 1131.2C2168.3 1131.7 2170.7 1129.7 2172.4 1128.2C2174.2 1126.7 2175.4 1123.4 2176.9 1122.3C2178.4 1121.1 2179.9 1120.1 2181.3 1121.4C2182.7 1122.6 2183.7 1126.8 2185.2 1129.7C2186.7 1132.5 2188.2 1135.9 2190.2 1138.6C2192.3 1141.3 2195.4 1145.5 2197.6 1146.0C2199.9 1146.5 2201.6 1143.3 2203.6 1141.5C2205.6 1139.8 2207.8 1136.7 2209.5 1135.6C2211.3 1134.5 2212.6 1134.0 2214.0 1135.0C2215.4 1136.0 2216.7 1138.0 2217.8 1141.5C2219.0 1145.1 2219.7 1150.9 2220.8 1156.4C2221.9 1161.8 2223.0 1169.5 2224.4 1174.2C2225.7 1178.9 2226.8 1181.9 2228.8 1184.6C2230.8 1187.3 2234.0 1188.0 2236.2 1190.5C2238.5 1193.0 2240.4 1196.0 2242.2 1199.4C2243.9 1202.9 2244.9 1207.6 2246.6 1211.3C2248.3 1215.0 2250.3 1218.9 2252.5 1221.7C2254.8 1224.4 2257.2 1226.6 2260.0 1227.6C2262.7 1228.6 2266.4 1226.9 2268.9 1227.6C2271.3 1228.3 2272.6 1229.6 2274.8 1232.1C2277.0 1234.5 2280.0 1238.7 2282.2 1242.4C2284.5 1246.2 2286.2 1250.6 2288.2 1254.3C2290.1 1258.0 2291.9 1261.5 2294.1 1264.7C2296.3 1267.9 2299.3 1270.4 2301.5 1273.6C2303.7 1276.8 2305.5 1281.0 2307.4 1284.0C2309.4 1287.0 2312.4 1290.2 2313.4 1291.4"/>
<path stroke="#ff0000" stroke-width="4.5" d="M229.7 1052.5C230.8 1051.8 233.7 1049.6 236.0 1048.4C238.3 1047.1 240.9 1047.1 243.3 1045.2C245.6 1043.2 247.7 1040.0 250.1 1036.7C252.5 1033.5 255.1 1028.3 257.5 1025.5C259.9 1022.7 262.0 1022.2 264.5 1019.9C267.1 1017.5 270.4 1014.0 272.8 1011.4C275.2 1008.8 276.5 1007.6 278.9 1004.4C281.3 1001.2 285.0 995.2 287.2 992.3C289.5 989.3 290.0 991.0 292.3 986.7C294.6 982.4 298.5 974.0 301.3 966.3C304.0 958.6 306.7 946.2 308.7 940.5C310.8 934.7 312.0 936.6 313.7 931.6C315.4 926.7 317.0 915.9 318.9 910.5C320.7 905.0 322.6 903.6 324.8 899.0C326.9 894.4 329.1 888.1 331.6 882.9C334.2 877.6 337.4 872.5 340.1 867.7C342.7 862.8 345.1 858.5 347.6 853.8C350.2 849.0 353.0 843.2 355.3 839.3C357.6 835.4 358.9 834.5 361.4 830.3C363.9 826.1 367.7 818.9 370.5 814.2C373.3 809.5 376.1 805.4 378.4 802.2C380.6 798.9 382.4 796.9 384.2 794.8C386.1 792.6 387.4 791.8 389.4 789.3C391.4 786.8 393.8 782.4 396.0 779.8C398.2 777.2 400.0 776.4 402.5 773.5C405.0 770.5 408.6 764.5 411.0 762.2C413.3 759.8 414.6 760.9 416.8 759.6C418.9 758.2 421.4 756.2 423.6 754.2C425.9 752.2 427.8 749.1 430.2 747.7C432.6 746.4 435.5 747.2 437.7 746.2C440.0 745.1 441.7 741.8 443.8 741.5C445.8 741.2 447.7 744.6 450.1 744.5C452.5 744.5 455.8 741.8 458.2 741.3C460.5 740.8 462.2 741.1 464.1 741.7C465.9 742.3 466.2 744.5 469.2 744.8C472.3 745.1 477.8 743.4 482.5 743.6C487.1 743.9 492.9 744.9 497.3 746.3C501.8 747.6 505.3 750.3 509.2 751.6C513.2 752.9 517.1 753.6 521.1 754.0C525.1 754.4 529.0 754.2 533.0 754.0C537.0 753.9 540.4 752.4 544.9 753.1C549.4 753.8 554.8 755.5 559.8 758.2C564.7 760.9 569.7 766.2 574.6 769.5C579.6 772.7 584.0 774.6 589.5 777.8C594.9 781.0 601.4 784.8 607.3 788.8C613.3 792.8 619.2 798.1 625.2 801.6C631.1 805.1 637.6 807.9 643.0 809.6C648.5 811.3 652.9 810.0 657.9 811.7C662.8 813.4 667.8 816.9 672.7 820.0C677.7 823.1 683.2 827.7 687.6 830.4C692.1 833.2 696.0 835.9 699.5 836.4C703.0 836.9 706.2 834.4 708.4 833.4C710.7 832.4 710.9 830.4 712.9 830.4C714.9 830.4 717.8 833.6 720.3 833.4C722.8 833.2 725.5 831.9 727.8 828.9C730.0 826.0 732.0 821.5 733.7 815.6C735.4 809.6 736.7 800.4 738.2 793.3C739.6 786.1 741.1 778.4 742.6 772.4C744.1 766.5 745.8 761.1 747.1 757.6C748.3 754.1 748.8 756.6 750.1 751.6C751.3 746.7 753.0 736.8 754.5 727.9C756.0 718.9 757.6 704.6 759.0 698.1C760.4 691.7 761.4 689.2 762.8 689.2C764.3 689.2 766.5 692.2 767.8 698.1C769.2 704.1 769.8 715.5 770.8 724.9C771.8 734.3 772.5 745.2 773.8 754.6C775.0 764.0 776.5 773.9 778.2 781.4C780.0 788.8 782.0 794.3 784.2 799.2C786.4 804.2 789.1 810.1 791.6 811.1C794.1 812.1 797.1 808.1 799.1 805.2C801.0 802.2 802.0 797.2 803.5 793.3C805.0 789.3 806.7 780.9 808.0 781.4C809.2 781.9 810.0 788.3 811.0 796.2C811.9 804.2 812.9 818.5 813.9 828.9C814.9 839.3 815.9 849.8 816.9 858.7C817.9 867.6 818.6 875.5 819.9 882.5C821.1 889.4 822.3 895.1 824.3 900.3C826.3 905.5 828.8 909.5 831.8 913.7C834.7 917.9 838.0 921.6 842.2 925.6C846.4 929.5 851.1 933.3 857.0 937.5C863.0 941.7 869.9 946.4 877.9 950.8C885.8 955.3 896.2 959.5 904.6 964.2C913.0 968.9 922.0 975.1 928.4 979.1C934.8 983.1 938.3 985.5 943.3 988.0C948.2 990.5 951.7 992.0 958.1 994.0C964.6 995.9 973.5 997.4 981.9 999.9C990.3 1002.4 1000.7 1005.6 1008.7 1008.8C1016.6 1012.0 1022.1 1015.0 1029.5 1019.2C1036.9 1023.4 1046.3 1030.1 1053.3 1034.1C1060.2 1038.1 1065.7 1040.6 1071.1 1043.0C1076.6 1045.4 1082.3 1047.3 1086.0 1048.4C1089.7 1049.5 1090.7 1051.2 1093.4 1049.6C1096.1 1047.9 1099.6 1041.8 1102.3 1038.6C1105.1 1035.3 1107.0 1030.1 1109.8 1030.2C1112.5 1030.4 1114.7 1038.1 1118.7 1039.4C1122.6 1040.8 1129.6 1037.9 1133.6 1038.6C1137.5 1039.3 1139.5 1041.5 1142.5 1043.6C1145.4 1045.7 1148.4 1049.5 1151.4 1051.3C1154.4 1053.2 1155.9 1054.6 1160.3 1054.9C1164.8 1055.3 1171.7 1054.2 1178.2 1053.4C1184.6 1052.7 1191.0 1052.2 1199.0 1050.5C1206.9 1048.7 1217.8 1045.3 1225.7 1043.0C1233.7 1040.7 1238.6 1038.3 1246.5 1036.5C1254.5 1034.6 1264.4 1033.1 1273.3 1032.0C1282.2 1031.0 1291.1 1030.8 1300.1 1030.2C1309.0 1029.6 1317.9 1029.4 1326.8 1028.4C1335.7 1027.5 1345.6 1026.1 1353.5 1024.3C1361.4 1022.5 1367.4 1020.6 1374.3 1017.7C1381.3 1014.9 1388.2 1011.1 1395.1 1007.3C1402.1 1003.6 1410.0 999.2 1416.0 995.4C1421.9 991.7 1425.9 989.0 1430.8 985.0C1435.8 981.1 1441.2 976.4 1445.7 971.7C1450.2 967.0 1454.1 961.7 1457.6 956.8C1461.1 951.8 1463.8 947.4 1466.5 941.9C1469.2 936.5 1472.0 930.5 1473.9 924.1C1475.9 917.6 1477.2 911.7 1478.4 903.3C1479.6 894.8 1480.5 883.5 1481.4 873.5C1482.3 863.6 1483.0 853.7 1483.7 843.8C1484.5 833.9 1485.1 821.0 1485.8 814.1C1486.6 807.1 1487.2 802.2 1488.2 802.2C1489.2 802.2 1490.7 810.4 1491.8 814.1C1492.9 817.8 1493.5 821.9 1494.7 824.5C1496.0 827.1 1497.5 829.8 1499.2 829.5C1500.9 829.3 1503.2 824.8 1505.2 823.0C1507.1 821.2 1509.1 820.8 1511.1 818.5C1513.1 816.3 1515.2 813.6 1517.0 809.6C1518.9 805.7 1520.9 800.9 1522.4 794.7C1523.9 788.6 1524.8 781.1 1526.0 772.4C1527.2 763.8 1528.3 752.6 1529.5 742.7C1530.8 732.8 1532.0 720.9 1533.4 713.0C1534.8 705.1 1536.1 699.5 1537.9 695.1C1539.6 690.8 1541.8 687.9 1543.8 687.1C1545.8 686.4 1547.8 688.4 1549.8 690.7C1551.7 693.0 1553.7 696.4 1555.7 701.1C1557.7 705.8 1559.9 714.2 1561.6 718.9C1563.4 723.6 1564.6 726.9 1566.1 729.3C1567.6 731.8 1569.1 734.0 1570.6 733.8C1572.1 733.5 1573.5 731.3 1575.0 727.9C1576.5 724.4 1578.0 719.9 1579.5 713.0C1581.0 706.0 1582.5 695.6 1583.9 686.2C1585.4 676.8 1587.2 668.0 1588.4 656.5C1589.6 645.0 1590.1 627.3 1591.4 617.3C1592.6 607.4 1594.4 601.7 1595.8 596.5C1597.3 591.3 1599.1 588.4 1600.3 586.1C1601.5 583.9 1602.3 582.7 1603.3 583.2C1604.3 583.7 1605.0 585.4 1606.2 589.1C1607.5 592.8 1609.0 597.2 1610.7 605.5C1612.4 613.7 1614.9 628.2 1616.7 638.7C1618.4 649.1 1619.6 658.5 1621.1 668.4C1622.6 678.3 1624.1 687.2 1625.6 698.1C1627.1 709.0 1628.5 721.9 1630.0 733.8C1631.5 745.7 1633.3 760.1 1634.5 769.5C1635.7 778.9 1636.5 782.4 1637.5 790.3C1638.5 798.2 1639.4 809.1 1640.4 817.0C1641.4 825.0 1642.4 831.9 1643.4 837.9C1644.4 843.8 1645.2 849.0 1646.4 852.7C1647.5 856.4 1649.0 860.7 1650.3 860.2C1651.5 859.7 1652.8 855.5 1653.8 849.8C1654.8 844.1 1655.6 834.4 1656.2 826.0C1656.8 817.5 1657.0 805.9 1657.7 799.2C1658.4 792.5 1659.3 789.3 1660.4 785.8C1661.5 782.4 1662.6 780.6 1664.2 778.4C1665.9 776.2 1668.4 775.2 1670.2 772.4C1671.9 769.7 1673.1 767.0 1674.6 762.0C1676.1 757.1 1677.6 750.4 1679.1 742.7C1680.6 735.0 1682.3 724.9 1683.6 716.0C1684.8 707.0 1685.4 695.9 1686.5 689.2C1687.6 682.5 1688.9 678.5 1690.1 675.8C1691.3 673.1 1692.6 672.3 1694.0 672.8C1695.3 673.3 1696.9 675.1 1698.4 678.8C1699.9 682.5 1701.4 689.4 1702.9 695.1C1704.4 700.8 1705.9 708.5 1707.3 713.0C1708.8 717.4 1710.4 719.4 1711.8 721.9C1713.2 724.4 1714.7 723.4 1715.7 727.9C1716.7 732.3 1716.9 741.2 1717.7 748.7C1718.6 756.1 1719.6 765.0 1720.7 772.4C1721.9 779.9 1723.3 787.3 1724.6 793.3C1725.8 799.2 1726.8 804.9 1728.2 808.1C1729.5 811.3 1731.1 813.1 1732.6 812.6C1734.1 812.1 1735.6 809.4 1737.1 805.2C1738.6 800.9 1740.0 793.8 1741.5 787.3C1743.0 780.9 1744.5 772.4 1746.0 766.5C1747.5 760.6 1748.7 755.0 1750.5 751.6C1752.2 748.3 1754.4 746.9 1756.4 746.3C1758.4 745.7 1760.6 747.3 1762.3 748.1C1764.1 748.9 1765.1 751.7 1766.8 751.0C1768.5 750.4 1771.0 748.6 1772.7 744.2C1774.5 739.8 1775.8 734.0 1777.2 724.9C1778.6 715.7 1779.9 701.1 1781.1 689.2C1782.2 677.3 1783.1 665.4 1784.0 653.5C1785.0 641.6 1786.2 630.8 1787.0 617.8C1787.9 604.9 1788.3 587.2 1789.1 575.7C1789.9 564.2 1791.1 555.9 1792.1 549.0C1793.1 542.0 1793.9 537.5 1795.0 534.1C1796.2 530.7 1797.7 528.5 1798.9 528.7C1800.2 529.0 1801.1 531.7 1802.5 535.6C1803.8 539.4 1805.6 548.0 1806.9 551.9C1808.3 555.9 1809.6 558.0 1810.8 559.4C1812.0 560.8 1812.8 561.0 1814.4 560.3C1816.0 559.5 1818.3 557.8 1820.3 554.9C1822.3 552.0 1824.3 548.5 1826.3 543.0C1828.3 537.6 1830.5 529.6 1832.2 522.2C1833.9 514.8 1835.2 507.3 1836.7 498.4C1838.2 489.5 1839.6 478.6 1841.1 468.7C1842.6 458.8 1844.4 446.1 1845.6 439.0C1846.8 431.8 1847.6 428.3 1848.6 425.6C1849.6 422.8 1850.6 421.9 1851.5 422.6C1852.5 423.3 1853.5 426.8 1854.5 430.0C1855.5 433.3 1856.5 439.2 1857.5 441.9C1858.5 444.7 1859.2 446.9 1860.5 446.4C1861.7 445.9 1863.6 444.2 1864.9 439.0C1866.3 433.7 1867.3 427.1 1868.5 415.2C1869.7 403.3 1871.2 382.5 1872.4 367.6C1873.5 352.7 1874.4 340.2 1875.3 326.0C1876.3 311.7 1876.9 297.2 1877.9 282.0C1878.9 266.8 1880.3 248.8 1881.6 235.0C1882.9 221.2 1884.1 209.0 1885.7 199.0C1887.3 189.0 1889.3 181.5 1891.1 175.0C1892.9 168.5 1895.1 163.3 1896.6 159.8C1898.1 156.3 1899.0 155.1 1900.0 153.8C1901.0 152.6 1901.7 152.3 1902.6 152.3C1903.5 152.3 1904.3 152.7 1905.2 154.0C1906.1 155.3 1906.8 155.8 1907.8 160.0C1908.8 164.2 1910.2 172.0 1911.5 179.5C1912.8 187.0 1914.0 197.3 1915.4 205.0C1916.8 212.7 1918.1 219.2 1919.7 225.5C1921.3 231.8 1923.4 237.2 1925.0 243.0C1926.6 248.8 1928.0 252.8 1929.3 260.0C1930.6 267.2 1931.7 274.3 1932.8 286.0C1933.9 297.7 1934.9 315.2 1936.0 330.0C1937.1 344.8 1938.4 359.5 1939.5 374.5C1940.6 389.5 1941.5 404.4 1942.5 420.0C1943.5 435.6 1944.4 453.8 1945.2 468.0C1946.0 482.2 1946.9 494.8 1947.5 505.0C1948.1 515.2 1948.1 517.5 1949.0 529.0C1949.9 540.5 1951.6 558.9 1953.0 573.8C1954.4 588.7 1955.7 603.5 1957.4 618.4C1959.1 633.3 1961.2 647.7 1963.4 663.0C1965.6 678.3 1968.1 697.3 1970.8 710.0C1973.5 722.7 1977.6 731.1 1979.5 739.5C1981.5 747.8 1981.5 752.8 1982.5 760.2C1983.5 767.7 1984.2 775.1 1985.5 784.0C1986.7 792.9 1988.4 804.3 1989.9 813.7C1991.4 823.1 1992.9 832.0 1994.4 840.4C1995.9 848.8 1997.3 858.4 1998.8 864.1C2000.3 869.8 2001.5 872.0 2003.3 874.5C2005.0 877.0 2007.6 875.2 2009.2 878.9C2010.8 882.7 2011.8 889.8 2013.1 896.8C2014.3 903.7 2015.3 912.6 2016.6 920.5C2018.0 928.4 2019.6 937.3 2021.1 944.2C2022.6 951.2 2024.0 957.3 2025.5 962.0C2027.0 966.7 2028.5 970.1 2030.0 972.4C2031.5 974.8 2032.8 976.5 2034.4 976.3C2036.1 976.0 2038.0 974.3 2039.8 970.9C2041.5 967.6 2043.2 962.0 2044.8 956.1C2046.4 950.2 2047.8 943.2 2049.3 935.3C2050.8 927.4 2052.2 916.5 2053.7 908.6C2055.2 900.7 2056.7 893.8 2058.2 887.9C2059.7 881.9 2060.9 876.5 2062.6 873.0C2064.4 869.6 2066.6 867.3 2068.6 867.1C2070.5 866.8 2072.8 868.6 2074.5 871.5C2076.2 874.5 2077.5 879.7 2078.9 884.9C2080.4 890.1 2082.0 898.0 2083.4 902.7C2084.8 907.4 2085.8 910.7 2087.3 913.1C2088.7 915.4 2090.5 916.9 2092.3 916.9C2094.1 916.9 2096.0 915.2 2098.2 913.1C2100.5 910.9 2103.4 907.6 2105.7 904.2C2107.9 900.7 2109.6 895.5 2111.6 892.3C2113.6 889.1 2115.1 886.7 2117.5 884.9C2120.0 883.1 2123.5 882.6 2126.4 881.3C2129.4 880.1 2132.9 879.3 2135.3 877.5C2137.8 875.6 2139.5 873.3 2141.3 870.0C2143.0 866.8 2144.5 863.1 2145.7 858.2C2147.0 853.2 2147.4 845.3 2148.7 840.4C2149.9 835.4 2151.4 830.7 2153.1 828.5C2154.9 826.3 2157.1 827.5 2159.1 827.0C2161.1 826.5 2162.5 827.3 2165.0 825.5C2167.5 823.8 2170.9 819.6 2173.9 816.6C2176.9 813.7 2179.8 809.5 2182.8 807.7C2185.8 806.0 2189.0 807.2 2191.7 806.2C2194.4 805.3 2196.7 803.8 2199.1 801.8C2201.6 799.8 2204.3 796.1 2206.6 794.4C2208.8 792.6 2210.8 791.2 2212.5 791.4C2214.2 791.7 2215.5 792.6 2216.9 795.9C2218.4 799.1 2219.9 806.5 2221.4 810.7C2222.9 814.9 2224.1 818.4 2225.8 821.1C2227.6 823.8 2229.6 826.0 2231.8 827.0C2234.0 828.0 2237.0 827.5 2239.2 827.0C2241.4 826.5 2243.4 826.3 2245.1 824.0C2246.9 821.8 2248.2 819.4 2249.6 813.7C2250.9 808.0 2251.9 799.8 2253.1 789.9C2254.4 780.0 2255.8 766.9 2257.0 754.3C2258.2 741.7 2259.5 724.2 2260.3 714.1C2261.1 704.0 2261.3 703.1 2262.0 694.0C2262.7 684.9 2263.6 670.9 2264.6 659.4C2265.6 647.9 2266.9 636.3 2268.1 624.8C2269.2 613.3 2270.2 600.3 2271.5 590.2C2272.8 580.1 2274.9 570.4 2276.2 564.3C2277.5 558.2 2278.6 555.8 2279.5 553.5C2280.4 551.2 2281.2 550.4 2281.9 550.5C2282.7 550.6 2283.3 551.7 2284.0 554.0C2284.7 556.3 2285.0 558.3 2285.8 564.3C2286.6 570.3 2287.7 581.6 2288.8 590.2C2289.9 598.9 2291.3 607.6 2292.3 616.2C2293.3 624.9 2293.9 633.5 2294.9 642.1C2295.9 650.8 2297.2 659.5 2298.3 668.1C2299.5 676.8 2300.9 687.5 2301.8 694.0C2302.8 700.5 2303.3 703.9 2304.0 707.0C2304.7 710.1 2305.2 709.9 2306.0 712.8C2306.8 715.7 2307.9 718.7 2308.9 724.6C2309.9 730.5 2311.0 742.2 2311.9 748.4C2312.8 754.6 2314.1 759.5 2314.5 761.7"/>
</g>
<line x1="2314.4" y1="1662" x2="2314.6" y2="1711" stroke="#a800a8" stroke-width="3.6"/>
<line x1="1474.7" y1="1131.7" x2="1509.7" y2="1166.3" stroke="#222" stroke-width="2.6"/>
<g text-anchor="middle" font-size="71.0">
<text transform="translate(412.5 1829) scale(1 1.04)">3500</text>
<text transform="translate(719.2 1829) scale(1 1.04)">3000</text>
<text transform="translate(1026.0 1829) scale(1 1.04)">2500</text>
<text transform="translate(1332.5 1829) scale(1 1.04)">2000</text>
<text transform="translate(1639.2 1829) scale(1 1.04)">1500</text>
<text transform="translate(1946.0 1829) scale(1 1.04)">1000</text>
<text transform="translate(2252.7 1829) scale(1 1.04)">500</text>
</g>
<text transform="translate(239.7 712.5) scale(1 1.045)" font-size="62.5">CH-MS-Si@OZ</text>
<text transform="translate(373.9 1031.0) scale(1 1.045)" font-size="62.5">CH-MS</text>
<text transform="translate(334.9 1434.3) scale(1 1.045)" font-size="63.2">CH-MS-OZ</text>
<g>
<text transform="translate(781.8 678.2) rotate(-90) scale(1 1.035)" font-size="56.5">2930</text>
<text transform="translate(840.6 734.3) rotate(-90) scale(1 1.035)" font-size="56.5">2856</text>
<text transform="translate(775.1 1020.7) rotate(-90) scale(1 1.035)" font-size="56.5">2929</text>
<text transform="translate(847.9 1063.6) rotate(-90) scale(1 1.035)" font-size="56.5">2858</text>
<text transform="translate(775.1 1413.4) rotate(-90) scale(1 1.035)" font-size="56.5">2926</text>
<text transform="translate(836.5 1458.9) rotate(-90) scale(1 1.035)" font-size="56.5">2855</text>
<text transform="translate(1506.8 794.8) rotate(-90) scale(1 1.035)" font-size="56.5">1748</text>
<text transform="translate(1559.9 673.3) rotate(-90) scale(1 1.035)" font-size="56.5">1657</text>
<text transform="translate(1620.2 570.3) rotate(-90) scale(1 1.049)" font-size="55.7">1557</text>
<text transform="translate(1710.6 660.3) rotate(-90) scale(1 1.022)" font-size="55.7">1420</text>
<text transform="translate(1804.2 517.9) rotate(-90) scale(1 1.035)" font-size="60.0">1240</text>
<text transform="translate(1865.2 417.6) rotate(-90) scale(1 1.035)" font-size="60.2">1155</text>
<text transform="translate(1960.0 185.6) rotate(-90) scale(1 1.023)" font-size="55.7">1070</text>
<text transform="translate(2292.3 550.7) rotate(-90) scale(1 1.035)" font-size="56.5">475</text>
<text transform="translate(2087.1 841.9) rotate(-90) scale(1 1.035)" font-size="56.5">800</text>
<text transform="translate(1920.4 625.8) rotate(-90) scale(1 1.035)" font-size="56.5">1070</text>
<text transform="translate(1561.6 941.1) rotate(-90) scale(1 1.035)" font-size="56.5">1651</text>
<text transform="translate(1757.1 940.8) rotate(-90) scale(1 1.035)" font-size="56.5">1405</text>
<text transform="translate(1859.6 971.3) rotate(-90) scale(1 1.035)" font-size="56.5">1240</text>
<text transform="translate(1783.1 1098.4) rotate(-90) scale(1 1.037)" font-size="55.0">1314</text>
<text transform="translate(1825.0 1217.1) rotate(-90) scale(1 1.033)" font-size="58.1">1258</text>
<text transform="translate(1470.0 1168.3) rotate(-90) scale(1 1.044)" font-size="55.1">1717</text>
<text transform="translate(1508.3 1512.3) rotate(-90) scale(1 1.035)" font-size="56.5">1745</text>
<text transform="translate(1565.6 1497.3) rotate(-90) scale(1 1.035)" font-size="56.5">1653</text>
<text transform="translate(1621.7 1453.8) rotate(-90) scale(1 1.035)" font-size="56.5">1557</text>
<text transform="translate(1684.2 1529.0) rotate(-90) scale(1 1.035)" font-size="56.5">1460</text>
<text transform="translate(1741.4 1501.7) rotate(-90) scale(1 1.035)" font-size="56.5">1376</text>
<text transform="translate(1817.9 1542.2) rotate(-90) scale(1 1.035)" font-size="56.5">1238</text>
<text transform="translate(1862.9 1452.9) rotate(-90) scale(1 1.035)" font-size="56.5">1151</text>
<text transform="translate(1910.8 1383.6) rotate(-90) scale(1 1.017)" font-size="55.4">1092</text>
<text transform="translate(1967.8 1433.6) rotate(-90) scale(1 1.036)" font-size="55.4">1035</text>
</g>
<text x="887" y="1973" font-size="87.0">wave number (cm<tspan font-size="58.0" dy="-33" dx="1">-1</tspan><tspan dy="33">)</tspan></text>
<text transform="translate(95 903) rotate(-90)" font-size="87.0">Abs</text>
<text class="cap" x="1199" y="2083" font-size="85" text-anchor="middle">(<tspan font-weight="bold" font-size="81">c</tspan>)</text>
</svg>
</body>
</html>
